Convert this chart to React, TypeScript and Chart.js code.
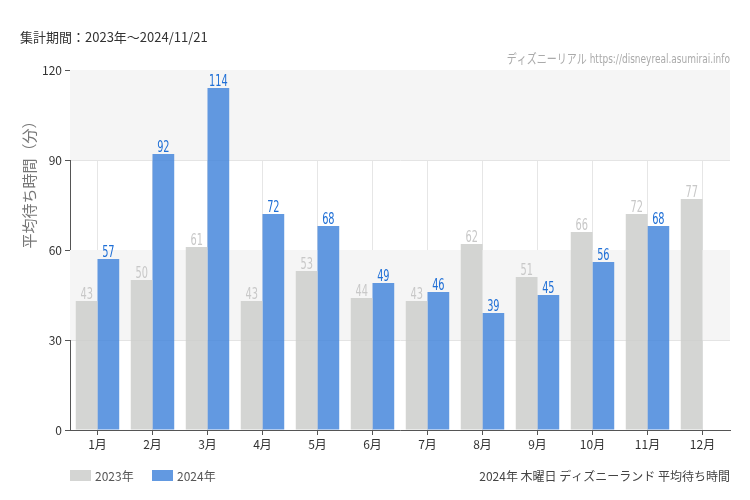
import React, { useEffect, useRef } from "react";
import { Chart, registerables } from "chart.js";

Chart.register(...registerables);

const categories = ["1月", "2月", "3月", "4月", "5月", "6月", "7月", "8月", "9月", "10月", "11月", "12月"];
const series2023 = [43, 50, 61, 43, 53, 44, 43, 62, 51, 66, 72, 77];
const series2024: (number | null)[] = [57, 92, 114, 72, 68, 49, 46, 39, 45, 56, 68, null];
const yTicks = [0, 30, 60, 90, 120];
const seriesNames = ["2023年", "2024年"];
const periodText = "集計期間：2023年〜2024/11/21";
const watermarkText = "ディズニーリアル https://disneyreal.asumirai.info";
const footerText = "2024年 木曜日 ディズニーランド 平均待ち時間";
const yTitleText = "平均待ち時間（分）";

const JP = '"Noto Sans CJK JP", "Noto Sans", sans-serif';
const COND = '"Liberation Sans Narrow", "DejaVu Sans Condensed", Roboto, "Noto Sans CJK JP", sans-serif';

const grayFill = "rgba(205,206,203,0.85)";
const blueFill = "rgba(70,135,220,0.85)";
const labelColors = ["#c8c8c8", "#1f6fd6"];

const bandsPlugin = {
  id: "bands",
  beforeDatasetsDraw(chart: any) {
    const { ctx, chartArea, scales } = chart;
    const y = scales.y;
    ctx.save();
    ctx.fillStyle = "#f5f5f5";
    for (let i = 0; i < yTicks.length - 1; i++) {
      if (i % 2 === 1) {
        const top = y.getPixelForValue(yTicks[i + 1]);
        const bot = y.getPixelForValue(yTicks[i]);
        ctx.fillRect(chartArea.left, top, chartArea.right - chartArea.left, bot - top);
      }
    }
    ctx.restore();
  },
};

function condensedText(ctx: any, text: string, x: number, y: number, scale: number, align: "left" | "center" | "right") {
  ctx.save();
  ctx.translate(x, y);
  ctx.scale(scale, 1);
  ctx.textAlign = align;
  ctx.fillText(text, 0, 0);
  ctx.restore();
}

const labelsPlugin = {
  id: "extras",
  afterDatasetsDraw(chart: any) {
    const { ctx } = chart;
    chart.data.datasets.forEach((ds: any, di: number) => {
      const meta = chart.getDatasetMeta(di);
      meta.data.forEach((bar: any, i: number) => {
        const v = ds.data[i];
        if (v === null || v === undefined) return;
        ctx.save();
        ctx.fillStyle = labelColors[di];
        ctx.font = `500 16px ${COND}`;
        ctx.textBaseline = "alphabetic";
        condensedText(ctx, String(v), bar.x, bar.y - 2, 0.68, "center");
        ctx.restore();
      });
    });
  },
  afterDraw(chart: any) {
    const { ctx, chartArea } = chart;
    ctx.save();
    ctx.fillStyle = "#333";
    ctx.font = `13px ${JP}`;
    ctx.textBaseline = "middle";
    ctx.textAlign = "left";
    ctx.fillText(periodText, 20, 37);
    ctx.fillStyle = "#aaa";
    ctx.font = `13px ${COND}`;
    condensedText(ctx, watermarkText, chartArea.right, 60, 0.77, "right");
    ctx.save();
    ctx.translate(29, 181);
    ctx.rotate(-Math.PI / 2);
    ctx.fillStyle = "#777";
    ctx.font = `15px ${JP}`;
    ctx.textAlign = "center";
    ctx.textBaseline = "middle";
    ctx.fillText(yTitleText, 0, 0);
    ctx.restore();
    const fills = [grayFill, blueFill];
    let lx = chartArea.left;
    ctx.font = `12px ${JP}`;
    ctx.textBaseline = "middle";
    ctx.textAlign = "left";
    seriesNames.forEach((name, i) => {
      ctx.fillStyle = fills[i];
      ctx.fillRect(lx, 470, 21, 11);
      ctx.fillStyle = "#555";
      ctx.fillText(name, lx + 25, 476);
      lx += 82;
    });
    ctx.fillStyle = "#444";
    ctx.textAlign = "right";
    ctx.fillText(footerText, chartArea.right, 476);
    ctx.restore();
  },
};

export default function App() {
  const ref = useRef<HTMLCanvasElement | null>(null);
  useEffect(() => {
    if (!ref.current) return;
    const chart = new Chart(ref.current, {
      type: "bar",
      data: {
        labels: categories,
        datasets: [
          { label: seriesNames[0], data: series2023, backgroundColor: grayFill, categoryPercentage: 0.79, barPercentage: 1.0 },
          { label: seriesNames[1], data: series2024, backgroundColor: blueFill, categoryPercentage: 0.79, barPercentage: 1.0 },
        ],
      },
      options: {
        animation: false,
        responsive: false,
        maintainAspectRatio: false,
        layout: { padding: { top: 70, right: 20, left: 0, bottom: 0 } },
        plugins: { legend: { display: false }, tooltip: { enabled: false } },
        scales: {
          x: {
            grid: { offset: false, color: "#e6e6e6", tickColor: "#555", tickLength: 5, drawOnChartArea: true },
            border: { color: "#555" },
            ticks: { color: "#333", font: { family: JP, size: 12 }, padding: 2, maxRotation: 0 },
            afterFit(scale: any) { scale.height = 70; },
          },
          y: {
            min: 0,
            max: 120,
            grid: { color: "#e4e4e4", tickColor: "#555", tickLength: 5 },
            border: { color: "#555" },
            ticks: { stepSize: 30, color: "#333", font: { family: JP, size: 12 }, padding: 3 },
            afterFit(scale: any) { scale.width = 70; },
          },
        },
      },
      plugins: [bandsPlugin, labelsPlugin],
    } as any);
    return () => chart.destroy();
  }, []);
  return (
    <div style={{ position: "absolute", left: 0, top: 0, width: 750, height: 500, background: "#fff" }}>
      <canvas ref={ref} width={750} height={500} style={{ width: 750, height: 500 }} />
    </div>
  );
}
